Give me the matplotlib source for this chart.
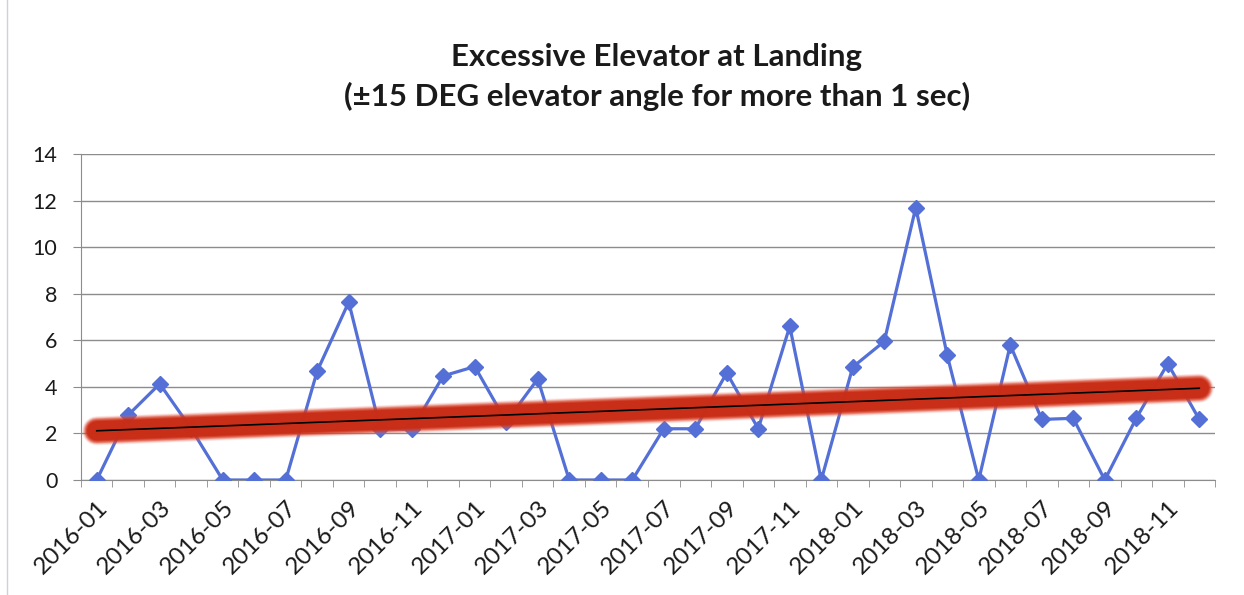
import numpy as np
import matplotlib
matplotlib.use('Agg')
import matplotlib.pyplot as plt

months = ['2016-01','2016-02','2016-03','2016-04','2016-05','2016-06','2016-07','2016-08','2016-09','2016-10','2016-11','2016-12',
          '2017-01','2017-02','2017-03','2017-04','2017-05','2017-06','2017-07','2017-08','2017-09','2017-10','2017-11','2017-12',
          '2018-01','2018-02','2018-03','2018-04','2018-05','2018-06','2018-07','2018-08','2018-09','2018-10','2018-11','2018-12']
counts = [0, 2.79, 4.13, 2.2, 0, 0, 0, 4.68, 7.64, 2.2, 2.18, 4.47,
          4.87, 2.5, 4.34, 0, 0, 0, 2.2, 2.2, 4.6, 2.2, 6.6, 0,
          4.85, 5.95, 11.7, 5.35, 0, 5.8, 2.6, 2.65, 0, 2.65, 5.0, 2.6]
title = 'Excessive Elevator at Landing\n(\u00b115 DEG elevator angle for more than 1 sec)'

plt.rcParams['font.family'] = ['Lato', 'DejaVu Sans']

fig = plt.figure(figsize=(12.44, 5.95), dpi=100)
ax = fig.add_axes([0.0651, 0.1933, 0.9116, 0.5479])

x = np.arange(len(months))
y = np.array(counts)

ax.plot(x, y, color='#5470d6', lw=2.3, marker='D', ms=8, zorder=3)

# linear trend with a soft red glow
k, b = np.polyfit(x, y, 1)
tx = np.array([x[0], x[-1]])
ty = k*tx + b
glow = [(21, 0.12, '#ee6a58'), (20, 0.16, '#e85a44'), (19, 0.22, '#e04a34'),
        (18, 0.3, '#d83e26'), (17, 0.42, '#d2341c'), (15.5, 0.6, '#cc2e16'), (14, 0.85, '#c82c14')]
for w, a, c in glow:
    ax.plot(tx, ty, color=c, lw=w, alpha=a, solid_capstyle='round', zorder=4)
ax.plot(tx, ty, color='black', lw=1.2, zorder=5)

ax.set_xlim(-0.5, len(months)-0.5)
ax.set_ylim(0, 14)
ax.set_yticks(np.arange(0, 15, 2))
ax.grid(axis='y', color='#8c8c8c', lw=1)
ax.set_axisbelow(True)

ax.set_xticks(x[::2])
ax.set_xticklabels(months[::2], rotation=45, ha='right', va='top', rotation_mode='anchor', fontsize=17.5, color='#1a1a1a')
ax.set_xticks(np.arange(-0.5, len(months), 1), minor=True)
ax.tick_params(axis='x', which='major', length=0, pad=12)
ax.tick_params(axis='x', which='minor', length=5, color='#8c8c8c')
ax.tick_params(axis='y', length=6, color='#8c8c8c', labelsize=15.5, labelcolor='#1a1a1a', pad=11)

for s in ['top', 'right']:
    ax.spines[s].set_visible(False)
for s in ['left', 'bottom']:
    ax.spines[s].set_color('#8c8c8c')

fig.text(0.528, 0.870, title, ha='center', va='center', fontsize=22.5, fontweight='bold', linespacing=1.45, color='#1a1a1a')
fig.add_artist(plt.Line2D([0.006, 0.006], [0.0, 1.0], color='#d0d0d8', lw=1))

plt.savefig('out.png', dpi=100)
